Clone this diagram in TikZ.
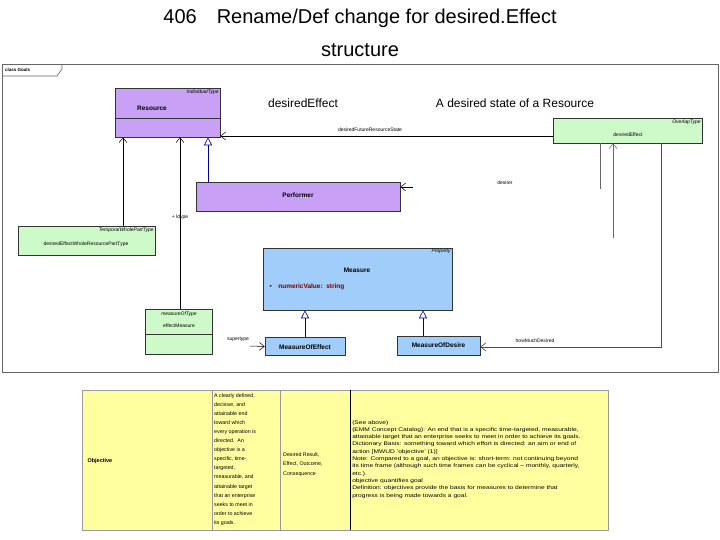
\documentclass[tikz,border=0pt]{standalone}
\usepackage{fontspec}
\setmainfont{Liberation Sans}
\usetikzlibrary{arrows.meta}
\definecolor{lilac}{RGB}{200,160,245}
\definecolor{sky}{RGB}{160,205,250}
\definecolor{mint}{RGB}{205,250,200}
\definecolor{pale}{RGB}{255,255,160}
\begin{document}
\begin{tikzpicture}[x=1pt,y=-1pt,
  purp/.style={draw=black!80,fill=lilac,line width=0.6pt},
  grn/.style={draw=black!80,fill=mint,line width=0.6pt},
  blu/.style={draw=black!80,fill=sky,line width=0.6pt},
  lbl/.style={font=\fontsize{5}{6}\selectfont,inner sep=1pt},
  ster/.style={font=\fontsize{5}{6}\selectfont\itshape,anchor=north east,inner sep=1.5pt},
  nm/.style={font=\fontsize{6.5}{7}\selectfont\bfseries},
  dep/.style={-{Straight Barb[length=5pt,width=8pt,open]},line width=0.5pt},
  gen/.style={-{Triangle[open,length=8pt,width=8pt]},draw=blue!60!black,line width=0.6pt},
  cell/.style={font=\fontsize{5.3}{9.1}\selectfont,align=left,anchor=north west,inner sep=0pt}]
\useasboundingbox (0,0) rectangle (720,540);
\fill[white] (0,0) rectangle (720,540);
% title
\node[font=\fontsize{20}{22}\selectfont] (t1) at (360,18) {406\quad Rename/Def change for desired.Effect};
\node[font=\fontsize{20}{22}\selectfont] (t2) at (360,50) {structure};
% frame
\draw[black!60,line width=1pt] (2,65) rectangle (718,372);
\draw[black!60,line width=0.6pt] (2,76) -- (57,76) -- (62,69) -- (62,65);
\node[font=\fontsize{4.5}{5}\selectfont\bfseries,anchor=west,inner sep=1pt] (tab) at (4,70) {class Goals};
% annotations
\node[font=\fontsize{12}{13}\selectfont] (de) at (303,103) {desiredEffect};
\node[font=\fontsize{12}{13}\selectfont] (ds) at (515,103) {A desired state of a Resource};
% Resource
\node[purp,minimum width=105pt,minimum height=49pt,inner sep=0pt] (res) at (167.5,112.5) {};
\draw[black!80] (115,118) -- (220,118);
\node[ster] at (res.north east) {IndividualType};
\node[nm] at (152,108) {Resource};
% desiredEffect green
\node[grn,minimum width=149pt,minimum height=25pt,inner sep=0pt] (dE) at (627.5,130.5) {};
\node[ster] at (dE.north east) {OverlapType};
\node[font=\fontsize{5}{6}\selectfont] at (628,135) {desiredEffect};
% Performer
\node[purp,minimum width=204pt,minimum height=29pt,inner sep=0pt] (perf) at (298,196.5) {};
\node[nm] at (298,195) {Performer};
% TemporalWholePartType
\node[grn,minimum width=137pt,minimum height=29pt,inner sep=0pt] (tw) at (86.5,240.5) {};
\node[ster] at (tw.north east) {TemporalWholePartType};
\node[font=\fontsize{5}{6}\selectfont] at (86,244) {desiredEffectWholeResourcePartType};
% measureOfType
\node[grn,minimum width=67pt,minimum height=45pt,inner sep=0pt] (mt) at (179,331.5) {};
\draw[black!80] (145,334) -- (212,334);
\node[font=\fontsize{5}{6}\selectfont\itshape] at (179,314) {measureOfType};
\node[font=\fontsize{5}{6}\selectfont] at (179,326) {effectMeasure};
% Measure
\node[blu,minimum width=189pt,minimum height=62pt,inner sep=0pt] (mea) at (357.5,279) {};
\node[ster] at (mea.north east) {Property};
\node[nm] at (357,270) {Measure};
\node[font=\fontsize{6.5}{7}\selectfont\bfseries,text=red!50!black,anchor=west] at (266,287) {\textbullet\quad numericValue:\ \ string};
% MeasureOfEffect / Desire
\node[blu,minimum width=80pt,minimum height=18pt,inner sep=0pt] (moe) at (305,346.5) {};
\node[nm] at (305,347) {MeasureOfEffect};
\node[blu,minimum width=83pt,minimum height=19pt,inner sep=0pt] (mod) at (438.5,345.5) {};
\node[nm] at (438.5,345.5) {MeasureOfDesire};
% connectors
\draw[dep] (dE.west |- 0,136) -- (res.east |- 0,136);
\node[lbl] at (370,130) {desiredFutureResourceState};
\draw[gen] (perf.north -| 208,0) -- (res.south -| 208,0);
\draw[dep] (tw.north -| 123,0) -- (res.south -| 123,0);
\draw[dep] (mt.north -| 180,0) -- (res.south -| 180,0);
\node[lbl] at (180,217) {+ ldype};
\coordinate (pa) at (413,187);
\draw[dep] (pa) -- (perf.east |- pa);
\node[lbl] at (505,183) {desirer};
\coordinate (v1) at (600,189);
\draw[black!60,line width=0.5pt] (dE.south -| v1) -- (v1);
\coordinate (v2) at (613,238);
\draw[dep,black!60] (v2) -- (dE.south -| v2);
\coordinate (c3) at (661,347);
\draw[dep,black!70,line width=0.6pt] (dE.south -| c3) -- (c3) -- (mod.east |- c3);
\node[lbl] at (535,341) {howMuchDesired};
\draw[gen] (moe.north) -- (mea.south -| moe.north);
\draw[gen] (mod.north -| 423,0) -- (mea.south -| 423,0);
\coordinate (sa) at (250,346);
\draw[dep] (sa) -- (moe.west);
\node[lbl] at (238,339) {supertype};
% table
\fill[pale] (82,390) rectangle (608,530);
\draw[black!40,line width=0.4pt] (82,390) rectangle (608,530) (212,390) -- (212,530) (280,390) -- (280,530);
\draw[black,line width=0.9pt] (350,390) -- (350,530);
\node[font=\fontsize{5.5}{6}\selectfont\bfseries,anchor=west] (obj) at (84,461) {Objective};
\node[cell] (c2) at (214,393) {A clearly defined,\\ decisive, and\\ attainable end\\ toward which\\ every operation is\\ directed.\ \ An\\ objective is a\\ specific, time-\\ targeted,\\ measurable, and\\ attainable target\\ that an enterprise\\ seeks to meet in\\ order to achieve\\ its goals.};
\node[cell,font=\fontsize{5.3}{9.5}\selectfont] (c3t) at (283,452) {Desired Result,\\ Effect, Outcome,\\ Consequence};
\node[cell,font=\fontsize{5.3}{7.3}\selectfont,transform shape,xscale=1.25] (c4) at (352,420) {(See above)\\ (EMM Concept Catalog): An end that is a specific time-targeted, measurable,\\ attainable target that an enterprise seeks to meet in order to achieve its goals.\\ Dictionary Basis: something toward which effort is directed: an aim or end of\\ action [MWUD 'objective' (1)]\\ Note: Compared to a goal, an objective is: short-term: not continuing beyond\\ its time frame (although such time frames can be cyclical -- monthly, quarterly,\\ etc.).\\ objective quantifies goal\\ Definition: objectives provide the basis for measures to determine that\\ progress is being made towards a goal.};
\end{tikzpicture}
\end{document}
